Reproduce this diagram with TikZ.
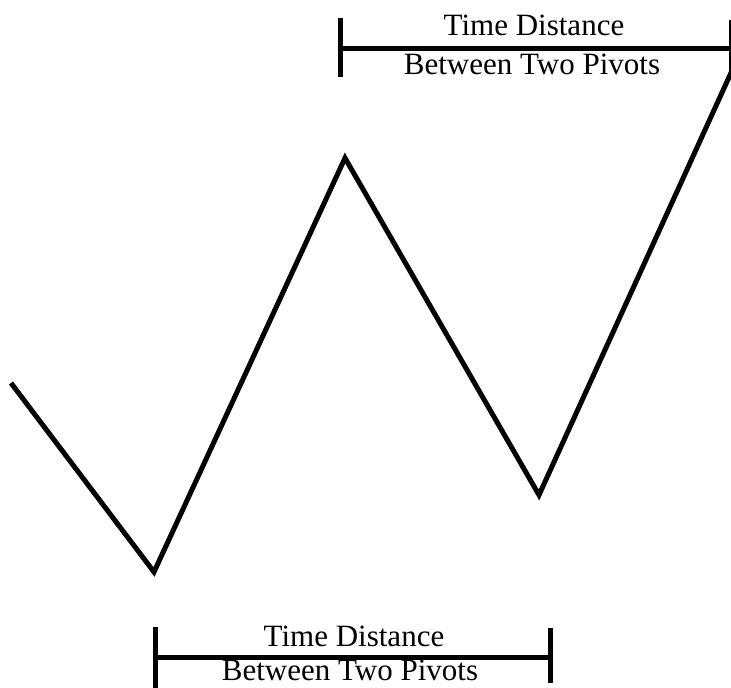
\documentclass[tikz,border=0pt]{standalone}
\usepackage{fontspec}
\setmainfont{Liberation Serif}
\usetikzlibrary{positioning}

\begin{document}
\begin{tikzpicture}[
    x=1pt, y=-1pt,
    every node/.style={font=\fontsize{31}{37}\selectfont, inner sep=0pt, anchor=base},
    wave/.style={line width=5pt, line join=miter},
    span/.style={line width=5pt}
]
\useasboundingbox (0,0) rectangle (731,688);

\coordinate (p0) at (11,383);
\coordinate (p1) at (154,572);
\coordinate (p2) at (345,158);
\coordinate (p3) at (539,495);
\coordinate (p4) at (735,64);

\draw[wave] (p0) -- (p1) -- (p2) -- (p3) -- (p4);

% upper span
\coordinate (ua) at (340,48);
\coordinate (ub) at (731,48);
\draw[span] (ua) -- (ub);
\draw[span] (340,18) -- (340,77);
\draw[span] (731,20) -- (731,77);
\node (ut) at (534,35) {Time Distance};
\node (ul) at (532,74) {Between Two Pivots};

% lower span
\coordinate (la) at (155,657);
\coordinate (lb) at (550,657);
\draw[span] (la) -- (lb);
\draw[span] (155,627) -- (155,690);
\draw[span] (550,628) -- (550,683);
\node (lt) at (354,646) {Time Distance};
\node (ll) at (350,680) {Between Two Pivots};

\end{tikzpicture}
\end{document}
